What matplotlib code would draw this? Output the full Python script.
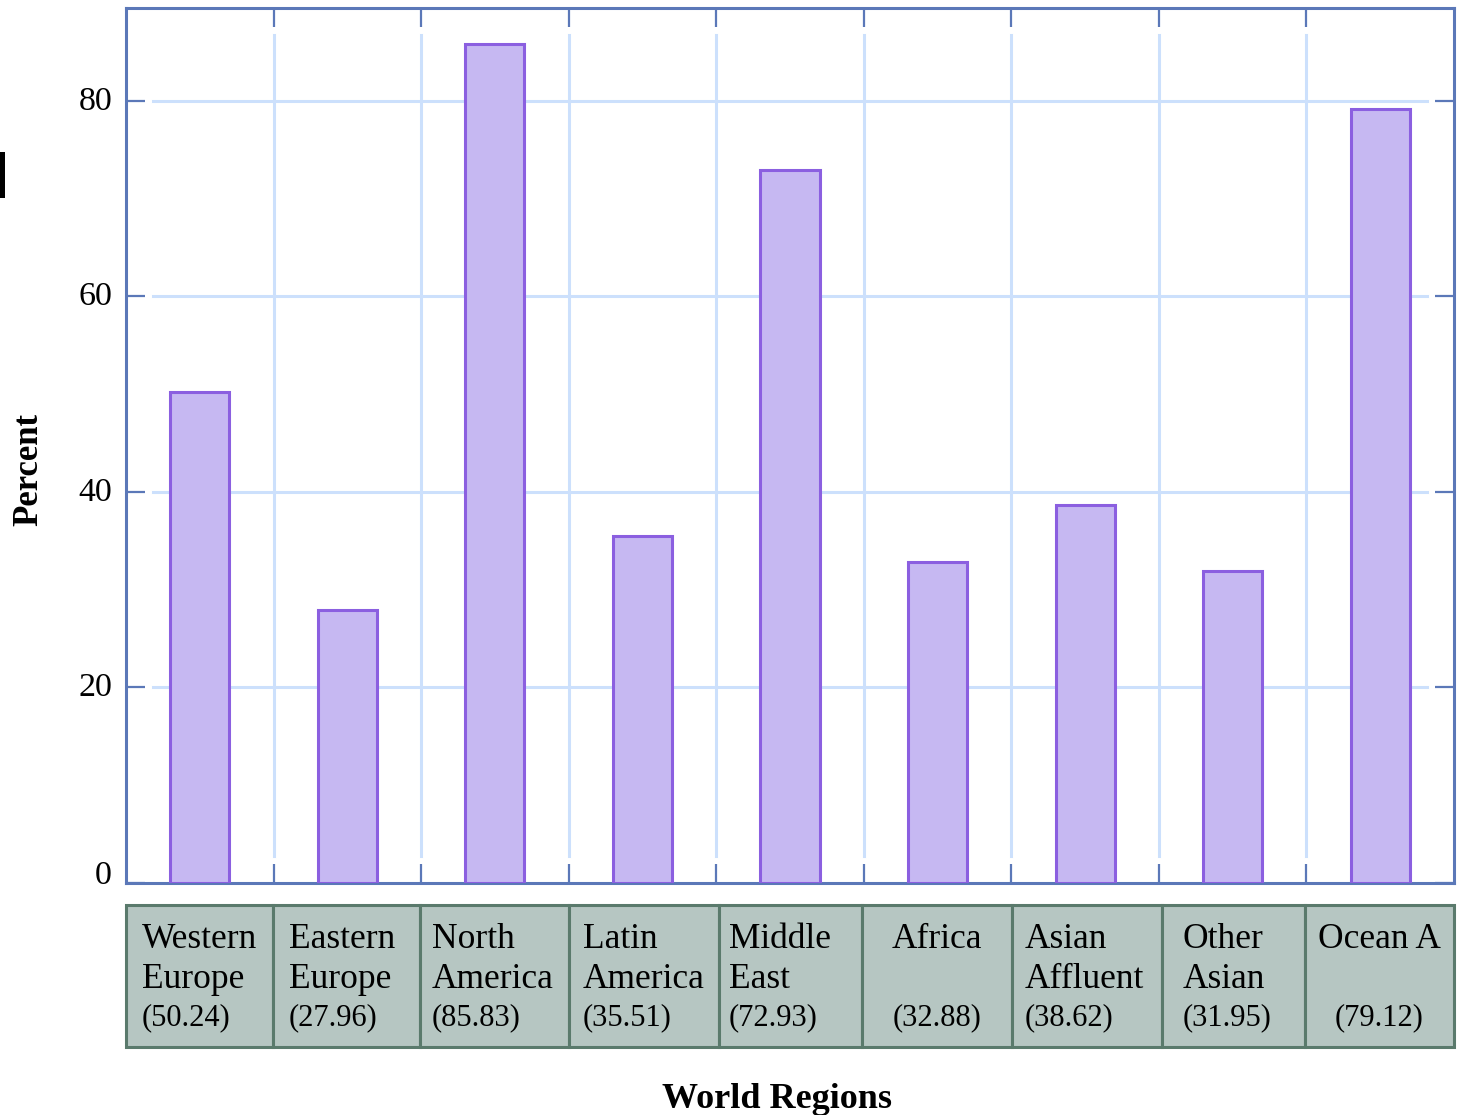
import matplotlib
matplotlib.use("Agg")
import matplotlib.pyplot as plt
import matplotlib.transforms as mtransforms
from matplotlib.patches import Rectangle

# Data
regions = ["Western\nEurope", "Eastern\nEurope", "North\nAmerica", "Latin\nAmerica",
           "Middle\nEast", "Africa\n", "Asian\nAffluent", "Other\nAsian", "Ocean A\n"]
percent = [50.24, 27.96, 85.83, 35.51, 72.93, 32.88, 38.62, 31.95, 79.12]
y_ticks = [0, 20, 40, 60, 80]

plt.rcParams["font.family"] = ["Liberation Serif", "DejaVu Serif"]

W, H, DPI = 1460, 1115, 100
fig = plt.figure(figsize=(W / DPI, H / DPI), dpi=DPI)
ax_l, ax_r, ax_t, ax_b = 126, 1454, 8, 883
ax = fig.add_axes([ax_l / W, 1 - ax_b / H, (ax_r - ax_l) / W, (ax_b - ax_t) / H])

spine_c = "#5b78b8"
grid_c = "#cce0fc"
bar_fc = "#c6b8f2"
bar_ec = "#8b5fe0"
cell_fc = "#b6c6c2"
cell_ec = "#5a7a6c"

n = len(percent)
xs = list(range(n))
ax.set_xlim(-0.5, n - 0.5)
ax.set_ylim(0, 89.5)

# Grid lines with a small gap next to the inward ticks
px_w = ax_r - ax_l
px_h = ax_b - ax_t
gx = 27 / px_w
gy = 27 / px_h
for yv in y_ticks[1:]:
    ax.axhline(yv, xmin=gx, xmax=1 - gx, color=grid_c, lw=2.2, zorder=1)
for xv in [i + 0.5 for i in range(n - 1)]:
    ax.axvline(xv, ymin=gy, ymax=1 - gy, color=grid_c, lw=2.2, zorder=1)

ax.bar(xs, percent, width=0.4, color=bar_fc, edgecolor=bar_ec, linewidth=2.2, zorder=3)

for s in ax.spines.values():
    s.set_color(spine_c)
    s.set_linewidth(2.2)

ax.set_yticks(y_ticks)
ax.set_yticklabels([str(v) for v in y_ticks])
ax.set_xticks([i + 0.5 for i in range(n - 1)])
ax.set_xticklabels([])
ax.tick_params(axis="both", direction="in", length=13.5, width=1.6, color=spine_c,
               top=True, right=True, labelsize=24.5, pad=10)
ax.tick_params(axis="y", labelright=False)

# Nudge the y tick labels upward a little, the zero label a bit more
for v, lab in zip(y_ticks, ax.get_yticklabels()):
    dy = 11 if v == 0 else 3
    lab.set_transform(lab.get_transform() +
                      mtransforms.ScaledTranslation(0, dy / DPI, fig.dpi_scale_trans))

# Table of region names under the plot
trans = mtransforms.blended_transform_factory(ax.transData, ax.transAxes)
cell_top = -(905 - ax_b) / px_h
cell_bot = -(1047 - ax_b) / px_h
cell_edges = [-0.5 + (px - ax_l) / (px_w / n) for px in
              [126, 273, 420, 569, 719, 862, 1012, 1162, 1305, 1454]]
text_left = [142, 289, 432, 583, 729, None, 1025, 1183, None]
y1 = -(939 - ax_b) / px_h
y2 = -(980 - ax_b) / px_h
y3 = -(1018 - ax_b) / px_h
cell_w = px_w / n
for i in range(n):
    x0, x1 = cell_edges[i], cell_edges[i + 1]
    ax.add_patch(Rectangle((x0, cell_bot), x1 - x0, cell_top - cell_bot, transform=trans,
                           facecolor=cell_fc, edgecolor=cell_ec, linewidth=2.2,
                           clip_on=False, zorder=2))
    l1, l2 = regions[i].split("\n")
    val = f"({percent[i]:.2f})"
    if text_left[i] is None:
        xc = (x0 + x1) / 2
        ha = "center"
    else:
        xc = -0.5 + (text_left[i] - ax_l) / cell_w
        ha = "left"
    ax.text(xc, y1, l1, transform=trans, ha=ha, va="center", fontsize=25.5, clip_on=False)
    if l2:
        ax.text(xc, y2, l2, transform=trans, ha=ha, va="center", fontsize=25.5, clip_on=False)
    ax.text(xc, y3, val, transform=trans, ha=ha, va="center", fontsize=22, clip_on=False)

fig.text(777 / W, 1 - 1099 / H, "World Regions", ha="center", va="center",
         fontsize=26, fontweight="bold")
fig.text(29 / W, 1 - 470 / H, "Percent", ha="center", va="center", rotation=90,
         fontsize=25, fontweight="bold")

# Small dark mark on the left margin
fig.patches.append(Rectangle((0, 1 - 198 / H), 5 / W, 46 / H, transform=fig.transFigure,
                             facecolor="black", edgecolor="none"))

fig.savefig("out.png", dpi=DPI)
